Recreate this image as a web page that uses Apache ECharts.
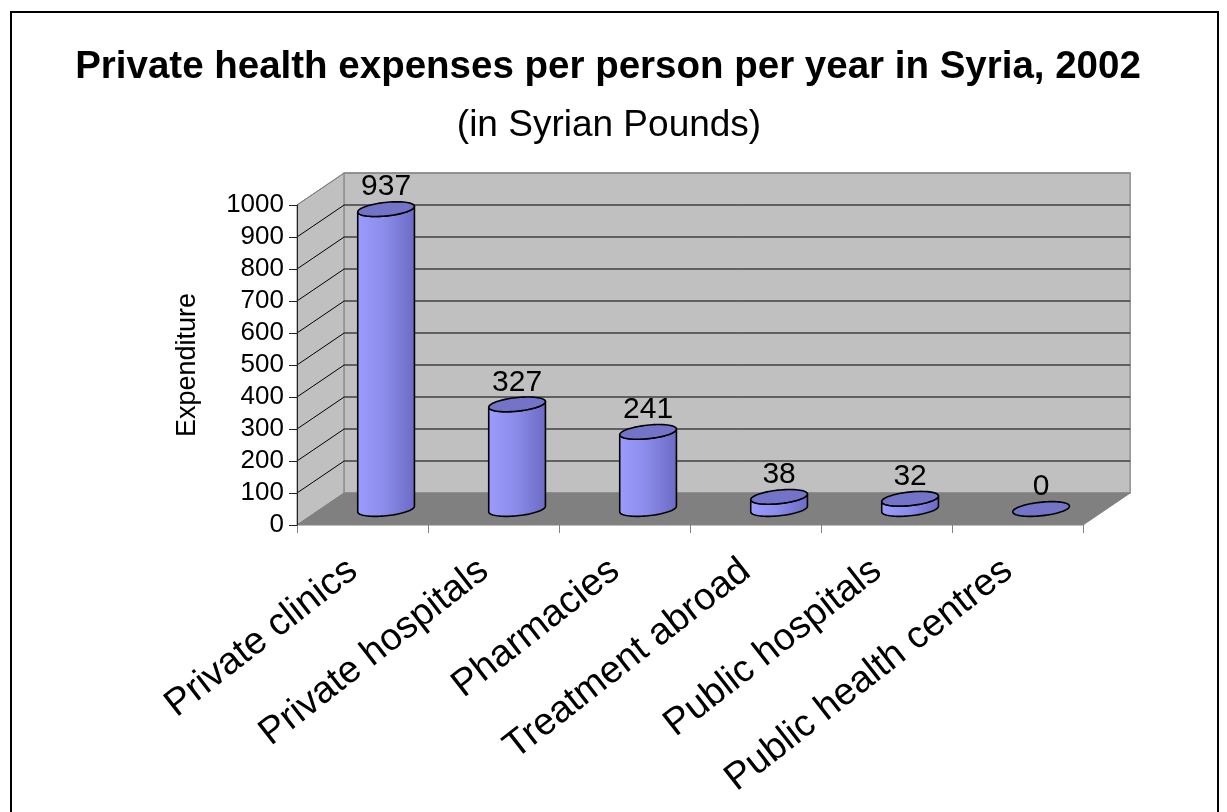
<!DOCTYPE html>
<html>
<head>
<meta charset="utf-8">
<script src="https://cdn.jsdelivr.net/npm/echarts@6/dist/echarts.min.js"></script>
<style>
html,body{margin:0;padding:0;background:#fff;}
#chart{width:1227px;height:812px;}
</style>
</head>
<body>
<div id="chart"></div>
<script>
// ---- data ----
const titleText = 'Private health expenses per person per year in Syria, 2002';
const subtitleText = '(in Syrian Pounds)';
const yAxisName = 'Expenditure';
const categories = ['Private clinics', 'Private hospitals', 'Pharmacies', 'Treatment abroad', 'Public hospitals', 'Public health centres'];
const values = [937, 327, 241, 38, 32, 0];
const yTicks = [0, 100, 200, 300, 400, 500, 600, 700, 800, 900, 1000];
const yMin = 0, yMax = 1000, yInterval = 100;

// ---- style constants ----
const FONT = "'Liberation Sans', Arial, sans-serif";
const DEPTH_X_FRAC = 0.36;   // depth offset in x, fraction of band width
const DEPTH_Y_FRAC = 0.10;   // depth offset in y, fraction of grid height
const CYL_R_FRAC = 0.20;     // cylinder radius, fraction of band width
const CYL_D_FRAC = 0.23;     // cylinder depth radius, fraction of depth vector

function depth(params, api) {
  const cs = params.coordSys;
  const bw = cs.width / categories.length;
  return [DEPTH_X_FRAC * bw, -DEPTH_Y_FRAC * cs.height, bw];
}

function renderWalls(params, api) {
  const cs = params.coordSys;
  const [dx, dy] = depth(params, api);
  const x0 = cs.x, x1 = cs.x + cs.width, yT = cs.y, yB = cs.y + cs.height;
  return {
    type: 'group',
    children: [
      { type: 'polygon', shape: { points: [[x0, yT], [x0 + dx, yT + dy], [x0 + dx, yB + dy], [x0, yB]] },
        style: { fill: '#C0C0C0', stroke: '#808080', lineWidth: 1 } },
      { type: 'polygon', shape: { points: [[x0 + dx, yT + dy], [x1 + dx, yT + dy], [x1 + dx, yB + dy], [x0 + dx, yB + dy]] },
        style: { fill: '#C0C0C0', stroke: '#909090', lineWidth: 1.5 } },
      { type: 'polygon', shape: { points: [[x0, yB], [x1, yB], [x1 + dx, yB + dy], [x0 + dx, yB + dy]] },
        style: { fill: '#808080', stroke: '#808080', lineWidth: 1 } }
    ]
  };
}

function renderGrid(params, api) {
  const cs = params.coordSys;
  const [dx, dy] = depth(params, api);
  const v = api.value(1);
  if (v === yMin) return null;
  const y = api.coord([0, v])[1];
  const x0 = cs.x, x1 = cs.x + cs.width;
  const col = (v === yMax) ? '#808080' : '#000000';
  return {
    type: 'polyline',
    shape: { points: [[x0, y], [x0 + dx, y + dy], [x1 + dx, y + dy]] },
    style: { stroke: col, lineWidth: 1, fill: null }
  };
}

function ellipsePt(c, R, d, t) {
  return [c[0] + R * Math.cos(t) + d[0] * Math.sin(t), c[1] + d[1] * Math.sin(t)];
}

function renderCylinder(params, api) {
  const [dx, dy, bw] = depth(params, api);
  const idx = api.value(0);
  const v = api.value(1);
  const top = api.coord([idx, v]);
  const base = api.coord([idx, yMin]);
  const cT = [top[0] + dx / 2, top[1] + dy / 2];
  const cB = [base[0] + dx / 2, base[1] + dy / 2];
  const R = CYL_R_FRAC * bw;
  const d = [CYL_D_FRAC * dx, CYL_D_FRAC * dy];
  const t0 = Math.atan2(d[0], R);
  const N = 40;
  const body = [];
  for (let i = 0; i <= N; i++) body.push(ellipsePt(cB, R, d, t0 + Math.PI + Math.PI * i / N));
  for (let i = 0; i <= N; i++) body.push(ellipsePt(cT, R, d, t0 + 2 * Math.PI - Math.PI * i / N));
  const topE = [];
  for (let i = 0; i < 72; i++) topE.push(ellipsePt(cT, R, d, 2 * Math.PI * i / 72));
  const children = [];
  if (cB[1] - cT[1] > 0.5) {
    children.push({
      type: 'polygon', shape: { points: body },
      style: {
        fill: new echarts.graphic.LinearGradient(0, 0, 1, 0, [
          { offset: 0, color: '#9C9CFF' },
          { offset: 0.45, color: '#8C8CEB' },
          { offset: 1, color: '#6B6BC4' }
        ]),
        stroke: '#000', lineWidth: 1.6, lineJoin: 'round'
      }
    });
  }
  children.push({
    type: 'polygon', shape: { points: topE },
    style: { fill: '#7373C8', stroke: '#000', lineWidth: 1.6 }
  });
  children.push({
    type: 'text',
    style: {
      text: String(v), x: cT[0], y: cT[1] - 22,
      font: '30px ' + FONT, fill: '#000',
      align: 'center', verticalAlign: 'middle',
      textAlign: 'center', textVerticalAlign: 'middle'
    }
  });
  return { type: 'group', children: children };
}

const chart = echarts.init(document.getElementById('chart'), null, { renderer: 'canvas' });
chart.setOption({
  backgroundColor: '#ffffff',
  animation: false,
  title: [
    { text: titleText, left: 608, top: 48, textAlign: 'center', padding: 0,
      textStyle: { fontFamily: FONT, fontSize: 38.5, fontWeight: 'bold', color: '#000' } },
    { text: subtitleText, left: 609, top: 107, textAlign: 'center', padding: 0,
      textStyle: { fontFamily: FONT, fontSize: 37, fontWeight: 'normal', color: '#000' } }
  ],
  graphic: [
    { type: 'rect', shape: { x: 11, y: 12, width: 1207, height: 840 },
      style: { fill: null, stroke: '#000', lineWidth: 2 }, z: -1 }
  ],
  grid: { left: 297, right: 144, top: 205, bottom: 287 },
  xAxis: {
    type: 'category', data: categories, boundaryGap: true,
    axisLine: { show: false },
    axisTick: { show: true, length: 8, lineStyle: { color: '#808080' } },
    axisLabel: { interval: 0, rotate: 38, margin: 34, padding: [0, 12, 0, 0],
      fontFamily: FONT, fontSize: 38, color: '#000' },
    splitLine: { show: false }
  },
  yAxis: {
    type: 'value', min: yMin, max: yMax, interval: yInterval, z: 5,
    name: yAxisName, nameLocation: 'middle', nameRotate: 90, nameGap: 96,
    nameTextStyle: { fontFamily: FONT, fontSize: 27, color: '#000' },
    axisLine: { show: true, lineStyle: { color: '#222', width: 1 } },
    axisTick: { show: true, length: 8, lineStyle: { color: '#222' } },
    axisLabel: { margin: 13, fontFamily: FONT, fontSize: 26, color: '#000',
      formatter: function (v) { return String(v); } },
    splitLine: { show: false }
  },
  series: [
    { type: 'custom', name: 'walls', z: 1, silent: true, renderItem: renderWalls,
      data: [[0, yMin]] },
    { type: 'custom', name: 'gridlines', z: 2, silent: true, renderItem: renderGrid,
      data: yTicks.map(v => [0, v]) },
    { type: 'custom', name: 'Expenditure', z: 3, renderItem: renderCylinder,
      data: values.map((v, i) => [i, v]) }
  ]
});
</script>
</body>
</html>
